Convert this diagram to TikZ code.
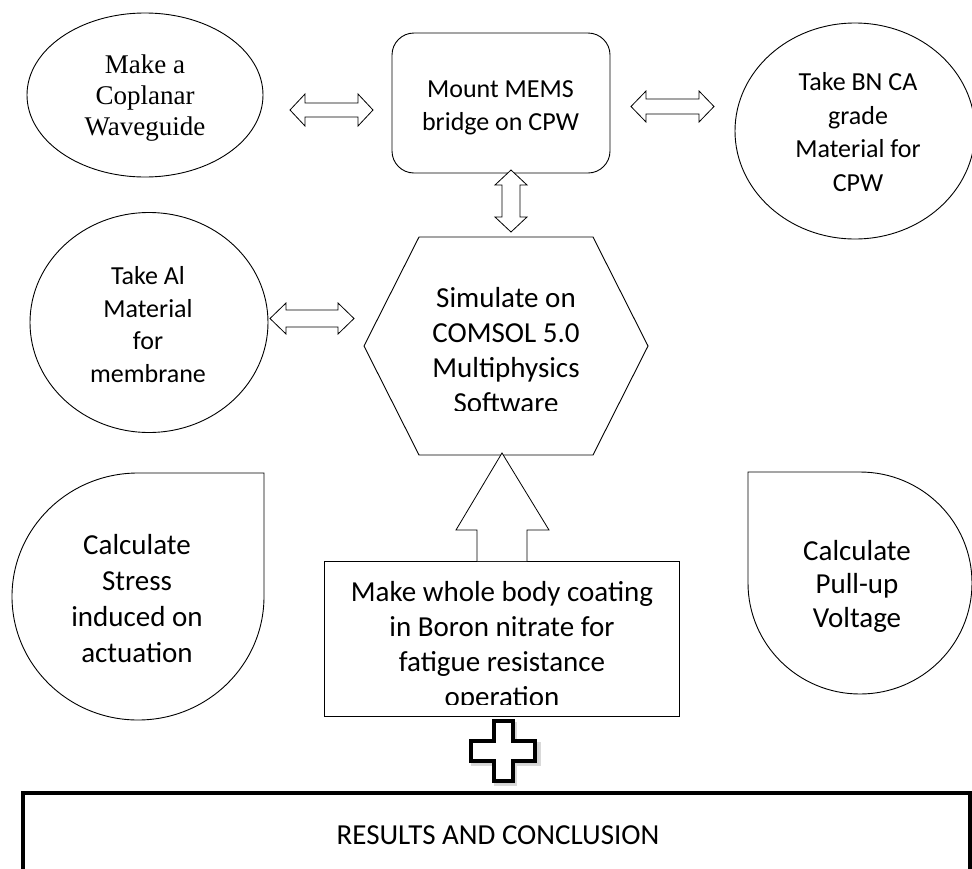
\documentclass[tikz,border=0pt]{standalone}
\usepackage{fontspec}
\setmainfont{Liberation Serif}
\newfontfamily\calibrifont{Carlito}
\begin{document}
\begin{tikzpicture}[x=1pt,y=-1pt,
  outline/.style={draw=black,line width=0.9pt,fill=white},
  blockarrow/.style={draw=black,line width=0.8pt,fill=white},
  serif26/.style={align=center,inner sep=0pt,font=\fontsize{27}{31}\selectfont},
  sans26/.style={align=center,inner sep=0pt,font=\calibrifont\fontsize{26}{33.5}\selectfont},
  sans29/.style={align=center,inner sep=0pt,font=\calibrifont\fontsize{29}{35}\selectfont}]
\useasboundingbox (0,0) rectangle (972,868);

% horizontal double block arrow: x1, x2, y centre, shaft half width, head half width, head length
\newcommand\hdarrow[6]{%
  \draw[blockarrow] (#1,#3) -- ({#1+#6},{#3-#5}) -- ({#1+#6},{#3-#4}) -- ({#2-#6},{#3-#4})
    -- ({#2-#6},{#3-#5}) -- (#2,#3) -- ({#2-#6},{#3+#5}) -- ({#2-#6},{#3+#4})
    -- ({#1+#6},{#3+#4}) -- ({#1+#6},{#3+#5}) -- cycle;}

% ---- shapes ----
\draw[outline] (145,95) ellipse [x radius=118pt, y radius=82pt];
\draw[outline,rounded corners=22pt] (392,33) rectangle (610,173);
\draw[outline] (855,131) ellipse [x radius=120pt, y radius=108pt];
\draw[outline] (149,322.5) ellipse [x radius=119pt, y radius=110pt];
\draw[outline] (419,237) -- (593,237) -- (648,346) -- (593,455) -- (419,455) -- (364,346) -- cycle;

% stress teardrop (square corner top right)
\draw[outline] (138,473) -- (264,473) -- (264,596.5)
  .. controls (264,664.7) and (207.6,720) .. (138,720)
  .. controls (68.4,720) and (12,664.7) .. (12,596.5)
  .. controls (12,528.3) and (68.4,473) .. (138,473) -- cycle;

% pull-up teardrop (square corner top left)
\draw[outline] (748,583) -- (748,472) -- (860,472)
  .. controls (921.9,472) and (972,521.7) .. (972,583)
  .. controls (972,644.3) and (921.9,694) .. (860,694)
  .. controls (798.1,694) and (748,644.3) .. (748,583) -- cycle;

% coating box
\draw[outline] (324,561) rectangle (679,716);

% up block arrow into the hexagon
\draw[blockarrow] (477,561) -- (477,530) -- (456,530) -- (502,453) -- (549,530) -- (527,530) -- (527,561);

% double block arrows
\hdarrow{290}{373}{110}{7}{16}{15}
\hdarrow{631}{714}{106.5}{7.5}{15.5}{15}
\hdarrow{270}{354}{318.5}{8.5}{15.5}{16}
\draw[blockarrow] (511,170) -- (527,185) -- (520,185) -- (520,217) -- (527,217) -- (511,232)
  -- (495,217) -- (502,217) -- (502,185) -- (495,185) -- cycle;

% plus sign with soft shadow
\draw[line width=4pt,draw=black!25,fill=black!10,opacity=0.6]
  (496,724) -- (515,724) -- (515,744) -- (539,744) -- (539,764) -- (515,764) -- (515,784)
  -- (496,784) -- (496,764) -- (473,764) -- (473,744) -- (496,744) -- cycle;
\draw[line width=4pt,fill=white,line join=miter]
  (494,721) -- (513,721) -- (513,741) -- (535,741) -- (535,761) -- (513,761) -- (513,781)
  -- (494,781) -- (494,761) -- (471,761) -- (471,741) -- (494,741) -- cycle;

% results box
\draw[line width=3.5pt,fill=white] (23,793) rectangle (970,890);

% ---- texts ----
\node[serif26] (waveguide) at (145,98) {Make a\\Coplanar\\Waveguide};
\node[sans26] (mount) at (500.5,108) {Mount MEMS\\bridge on CPW};
\node[sans26] (bnca) at (858,132) {Take BN CA\\grade\\Material for\\CPW};
\node[sans26,font=\calibrifont\fontsize{26}{32.5}\selectfont] (alum) at (148,324.5) {Take Al\\Material\\for\\membrane};
\begin{scope}
  \clip (360,230) rectangle (660,410);
  \node[sans29] (simulate) at (506,350.5) {Simulate on\\COMSOL 5.0\\Multiphysics\\Software};
\end{scope}
\node[sans29,font=\calibrifont\fontsize{29}{36}\selectfont] (stress) at (137,599) {Calculate\\Stress\\induced on\\actuation};
\begin{scope}
  \clip (320,565) rectangle (680,704);
  \node[sans29] (coating) at (502,646.5) {Make whole body coating\\in Boron nitrate for\\fatigue resistance\\operation};
\end{scope}
\node[sans29,font=\calibrifont\fontsize{29}{33.5}\selectfont] (pullup) at (857,586) {Calculate\\Pull-up\\Voltage};
\node[sans29] (results) at (498,835) {RESULTS AND CONCLUSION};
\end{tikzpicture}
\end{document}
